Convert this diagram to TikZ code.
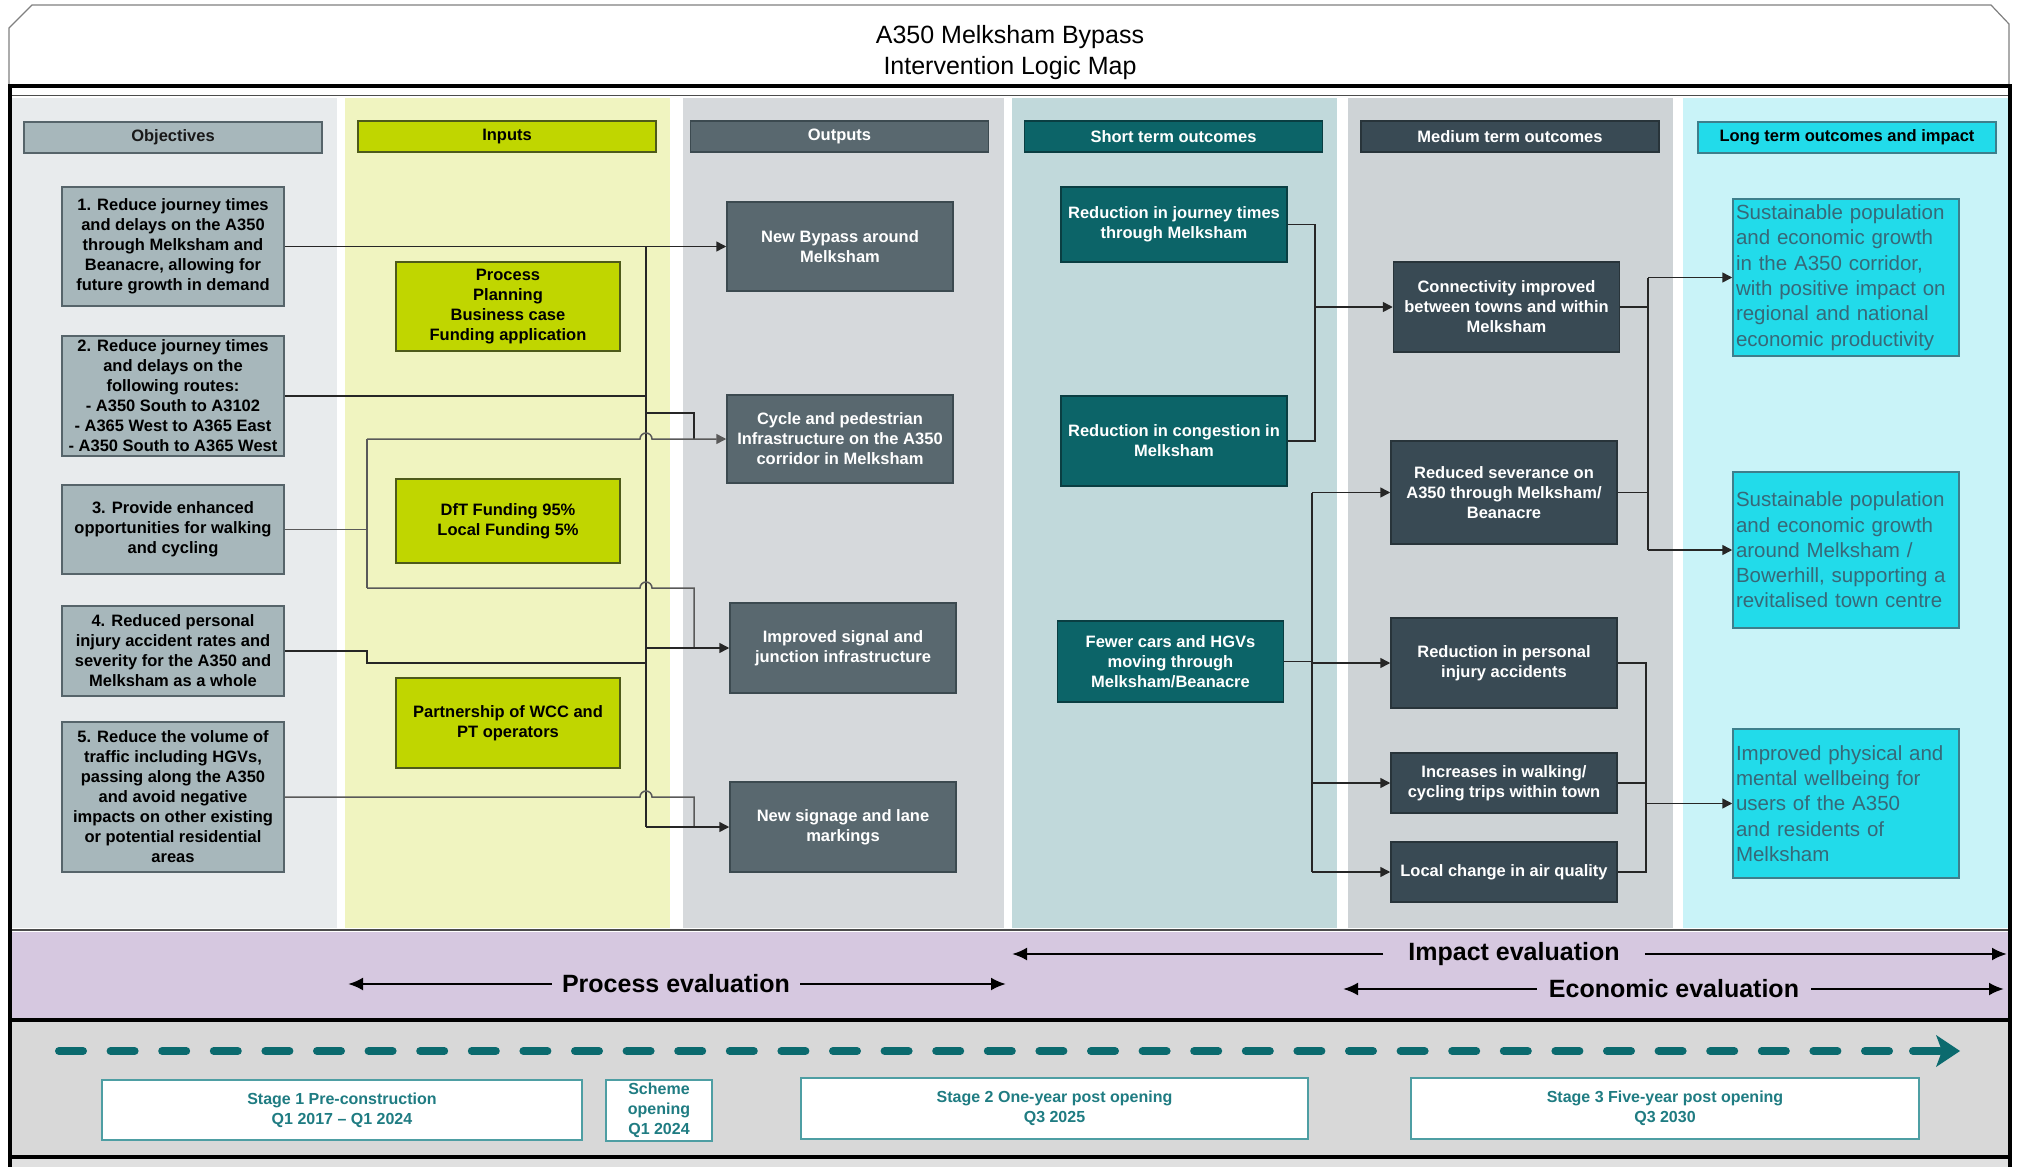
\documentclass[tikz,border=0pt]{standalone}
\usepackage{fontspec}
\setmainfont{Liberation Sans}
\usetikzlibrary{arrows.meta,calc}
\definecolor{objBG}{HTML}{E8EBED}
\definecolor{inpBG}{HTML}{F0F4C0}
\definecolor{outBG}{HTML}{D6D9DC}
\definecolor{shBG}{HTML}{C1D9DB}
\definecolor{mdBG}{HTML}{CED3D6}
\definecolor{lgBG}{HTML}{C9F3F8}
\definecolor{objF}{HTML}{A7B7BB}
\definecolor{objD}{HTML}{56646A}
\definecolor{inpF}{HTML}{C0D600}
\definecolor{inpD}{HTML}{4E5A1A}
\definecolor{outF}{HTML}{59686F}
\definecolor{outD}{HTML}{3C4A50}
\definecolor{shF}{HTML}{0C6468}
\definecolor{shD}{HTML}{0A3E42}
\definecolor{mdF}{HTML}{394A54}
\definecolor{mdD}{HTML}{28343A}
\definecolor{lgF}{HTML}{22DBEA}
\definecolor{lgD}{HTML}{3D7F8C}
\definecolor{lgT}{HTML}{376878}
\definecolor{purp}{HTML}{D6C8E0}
\definecolor{lowG}{HTML}{D8D8D8}
\definecolor{stD}{HTML}{4E9EA3}
\definecolor{stT}{HTML}{1F7C82}
\definecolor{dashT}{HTML}{0B6A6E}
\begin{document}
\begin{tikzpicture}[x=1pt,y=-1pt,
 bx/.style={draw, line width=1.5pt, inner xsep=2pt, inner ysep=2pt, align=center, font=\bfseries\fontsize{16.5}{20}\selectfont},
 objb/.style={bx, fill=objF, draw=objD, text=black, minimum width=222pt},
 inpb/.style={bx, fill=inpF, draw=inpD, text=black, minimum width=224pt},
 outb/.style={bx, fill=outF, draw=outD, text=white, minimum width=226pt},
 shortb/.style={bx, fill=shF, draw=shD, text=white, minimum width=226pt},
 medb/.style={bx, fill=mdF, draw=mdD, text=white, minimum width=226pt},
 longb/.style={draw=lgD, fill=lgF, line width=1.5pt, text=lgT, align=left, text width=220pt, inner xsep=3pt, inner ysep=0pt, font=\fontsize{20.5}{25.3}\selectfont},
 hdr/.style={draw, line width=1.5pt, inner sep=0pt, minimum height=31pt, minimum width=298pt, font=\bfseries\fontsize{16.5}{20}\selectfont},
 stg/.style={draw=stD, fill=white, line width=1.3pt, text=stT, align=center, font=\bfseries\fontsize{16}{20}\selectfont, inner sep=0pt},
 conn/.style={draw=black!85, line width=1.5pt},
 connl/.style={draw=black!65, line width=1.5pt},
 arr/.style={-{Triangle[length=10pt,width=10pt]}},
 evarr/.style={draw=black, line width=2.5pt, -{Latex[length=15pt,width=13pt]}},
 evtext/.style={font=\bfseries\fontsize{25}{30}\selectfont, inner ysep=0pt}
]
\useasboundingbox (0,0) rectangle (2022,1167);
% top frame
\draw[draw=black!50, line width=1.2pt, fill=white] (9,86) -- (9,28) -- (32,5) -- (1991,5) -- (2009,24) -- (2009,86);
\node[font=\fontsize{25}{31}\selectfont, align=center] (title) at (1010,53) {A350 Melksham Bypass\\Intervention Logic Map};
% column backgrounds
\fill[objBG] (12,98) rectangle (337,928);
\fill[inpBG] (345,98) rectangle (670,928);
\fill[outBG] (683,98) rectangle (1004,928);
\fill[shBG] (1012,98) rectangle (1337,928);
\fill[mdBG] (1348,98) rectangle (1673,928);
\fill[lgBG] (1683,98) rectangle (2008,928);
\draw[black!70, line width=1pt] (12,95) -- (2008,95);
% bottom bands
\fill[purp] (12,932) rectangle (2008,1018);
\draw[black!70, line width=1.2pt] (12,930) -- (2008,930);
\fill[lowG] (12,1022) rectangle (2008,1155);
\fill[black!12] (12,1159) rectangle (2008,1167);
\draw[line width=4pt] (10,1020) -- (2010,1020);
\draw[line width=4pt] (10,1157) -- (2010,1157);
\draw[line width=4pt] (8,86) -- (2011,86);
\draw[line width=3.5pt] (10,84) -- (10,1167);
\draw[line width=3.5pt] (2010,84) -- (2010,1167);
% headers
\node[hdr, fill=objF, draw=objD, text=black!90] (h1) at (173,137.5) {Objectives};
\node[hdr, fill=inpF, draw=inpD, text=black] (h2) at (507,136.5) {Inputs};
\node[hdr, fill=outF, draw=outD, text=white] (h3) at (839.5,136.5) {Outputs};
\node[hdr, fill=shF, draw=shD, text=white] (h4) at (1173.5,136.5) {Short term outcomes};
\node[hdr, fill=mdF, draw=mdD, text=white] (h5) at (1510,136.5) {Medium term outcomes};
\node[hdr, fill=lgF, draw=lgD, text=black] (h6) at (1847,137.5) {Long term outcomes and impact};
% objectives
\node[objb, minimum height=119pt] (o1) at (173,246.5) {1. Reduce journey times\\and delays on the A350\\through Melksham and\\Beanacre, allowing for\\future growth in demand};
\node[objb, minimum height=120pt] (o2) at (173,396) {2. Reduce journey times\\and delays on the\\following routes:\\- A350 South to A3102\\- A365 West to A365 East\\- A350 South to A365 West};
\node[objb, minimum height=89pt] (o3) at (173,529.5) {3. Provide enhanced\\opportunities for walking\\and cycling};
\node[objb, minimum height=90pt] (o4) at (173,651) {4. Reduced personal\\injury accident rates and\\severity for the A350 and\\Melksham as a whole};
\node[objb, minimum height=150pt] (o5) at (173,797) {5. Reduce the volume of\\traffic including HGVs,\\passing along the A350\\and avoid negative\\impacts on other existing\\or potential residential\\areas};
% inputs
\node[inpb, minimum height=89pt] (i1) at (508,306.5) {Process\\Planning\\Business case\\Funding application};
\node[inpb, minimum height=84pt] (i2) at (508,521) {DfT Funding 95\%\\Local Funding 5\%};
\node[inpb, minimum height=90pt] (i3) at (508,723) {Partnership of WCC and\\PT operators};
% outputs
\node[outb, minimum height=89pt] (out1) at (840,246.5) {New Bypass around\\Melksham};
\node[outb, minimum height=88pt] (out2) at (840,439) {Cycle and pedestrian\\Infrastructure on the A350\\corridor in Melksham};
\node[outb, minimum height=90pt] (out3) at (843,648) {Improved signal and\\junction infrastructure};
\node[outb, minimum height=90pt] (out4) at (843,827) {New signage and lane\\markings};
% short term
\node[shortb, minimum height=75pt] (s1) at (1174,224.5) {Reduction in journey times\\through Melksham};
\node[shortb, minimum height=90pt] (s2) at (1174,441) {Reduction in congestion in\\Melksham};
\node[shortb, minimum height=81pt] (s3) at (1170.5,661.5) {Fewer cars and HGVs\\moving through\\Melksham/Beanacre};
% medium term
\node[medb, minimum height=90pt] (m1) at (1506.5,307) {Connectivity improved\\between towns and within\\Melksham};
\node[medb, minimum height=103pt] (m2) at (1504,492.5) {Reduced severance on\\A350 through Melksham/\\Beanacre};
\node[medb, minimum height=90pt] (m3) at (1504,663) {Reduction in personal\\injury accidents};
\node[medb, minimum height=60pt] (m4) at (1504,783) {Increases in walking/\\cycling trips within town};
\node[medb, minimum height=60pt] (m5) at (1504,872) {Local change in air quality};
% long term
\node[longb, minimum height=157pt] (l1) at (1846,277.5) {Sustainable population\\and economic growth\\in the A350 corridor,\\with positive impact on\\regional and national\\economic productivity};
\node[longb, minimum height=156pt] (l2) at (1846,550) {Sustainable population\\and economic growth\\around Melksham /\\Bowerhill, supporting a\\revitalised town centre};
\node[longb, minimum height=149pt] (l3) at (1846,803.5) {Improved physical and\\mental wellbeing for\\users of the A350\\and residents of\\Melksham};
% bus coordinates
\coordinate (busL) at (646,0);
\coordinate (l3x) at (367,0);
\coordinate (elb) at (694,0);
\coordinate (j2) at (646,413);
\coordinate (j4) at (646,663);
\coordinate (bot3) at (367,588);
\coordinate (busS) at (1315,0);
\coordinate (busF) at (1312,0);
\coordinate (busM1) at (1648,0);
\coordinate (busM2) at (1646,0);
% left connectors
\draw[conn,arr] (o1.east) -- (out1.west);
\draw[conn] (o1.east -| busL) -- (out4.west -| busL);
\draw[conn] (o2.east) -- (o2.east -| busL);
\draw[conn] (j2) -- (j2 -| elb) -- (out2.west -| elb);
\draw[connl] (o3.east) -- (o3.east -| l3x);
\draw[connl] (out2.west -| l3x) -- (bot3);
\draw[connl,arr] (out2.west -| l3x) -- ($(out2.west -| busL)+(-6,0)$) arc[start angle=180,end angle=0,radius=6pt] -- (out2.west);
\draw[connl] (bot3) -- ($(bot3 -| busL)+(-6,0)$) arc[start angle=180,end angle=0,radius=6pt] -- (bot3 -| elb) -- (out3.west -| elb);
\draw[conn,arr] (out3.west -| busL) -- (out3.west);
\draw[conn] (o4.east) -- (o4.east -| l3x) -- (j4 -| l3x) -- (j4);
\draw[connl] (o5.east) -- ($(o5.east -| busL)+(-6,0)$) arc[start angle=180,end angle=0,radius=6pt] -- (o5.east -| elb) -- (out4.west -| elb);
\draw[conn,arr] (out4.west -| busL) -- (out4.west);
% right connectors
\draw[conn] (s1.east) -- (s1.east -| busS) -- (s2.east -| busS) -- (s2.east);
\draw[conn,arr] (m1.west -| busS) -- (m1.west);
\draw[conn] (s3.east) -- (s3.east -| busF);
\draw[conn] (m2.west -| busF) -- (m5.west -| busF);
\draw[conn,arr] (m2.west -| busF) -- (m2.west);
\draw[conn,arr] (m3.west -| busF) -- (m3.west);
\draw[conn,arr] (m4.west -| busF) -- (m4.west);
\draw[conn,arr] (m5.west -| busF) -- (m5.west);
\draw[conn] (m1.east) -- (m1.east -| busM1);
\draw[conn] (m2.east) -- (m2.east -| busM1);
\draw[conn] (l1.west -| busM1) -- (l2.west -| busM1);
\draw[conn,arr] (l1.west -| busM1) -- (l1.west);
\draw[conn,arr] (l2.west -| busM1) -- (l2.west);
\draw[conn] (m3.east) -- (m3.east -| busM2) -- (m5.east -| busM2) -- (m5.east);
\draw[conn] (m4.east) -- (m4.east -| busM2);
\draw[conn,arr] (l3.west -| busM2) -- (l3.west);
% evaluation arrows
\node[evtext, inner xsep=10pt] (pe) at (676,984) {Process evaluation};
\coordinate (peL) at (348,984);
\coordinate (peR) at (1006,984);
\draw[evarr] (pe.west) -- (peL);
\draw[evarr] (pe.east) -- (peR);
\node[evtext, inner xsep=25pt] (ie) at (1514,954) {Impact evaluation};
\coordinate (ieL) at (1012,954);
\coordinate (ieR) at (2007,954);
\draw[evarr] (ie.west) -- (ieL);
\draw[evarr] (ie.east) -- (ieR);
\node[evtext, inner xsep=12pt] (ee) at (1674,989) {Economic evaluation};
\coordinate (eeL) at (1343,989);
\coordinate (eeR) at (2004,989);
\draw[evarr] (ee.west) -- (eeL);
\draw[evarr] (ee.east) -- (eeR);
% timeline
\draw[dashT, line width=8pt, line cap=round, dash pattern=on 24pt off 27.6pt] (59,1051) -- (1895,1051);
\draw[dashT, line width=8pt, line cap=round] (1913,1051) -- (1940,1051);
\fill[dashT] (1960,1051) -- (1936,1035) -- (1942,1051) -- (1936,1067) -- cycle;
% stages
\node[stg, minimum width=480pt, minimum height=60pt] (st1) at (342,1110) {Stage 1 Pre-construction\\Q1 2017 -- Q1 2024};
\node[stg, minimum width=106pt, minimum height=61pt] (st0) at (659,1110.5) {Scheme\\opening\\Q1 2024};
\node[stg, minimum width=507pt, minimum height=61pt] (st2) at (1054.5,1108.5) {Stage 2 One-year post opening\\Q3 2025};
\node[stg, minimum width=508pt, minimum height=61pt] (st3) at (1665,1108.5) {Stage 3 Five-year post opening\\Q3 2030};
\end{tikzpicture}
\end{document}
